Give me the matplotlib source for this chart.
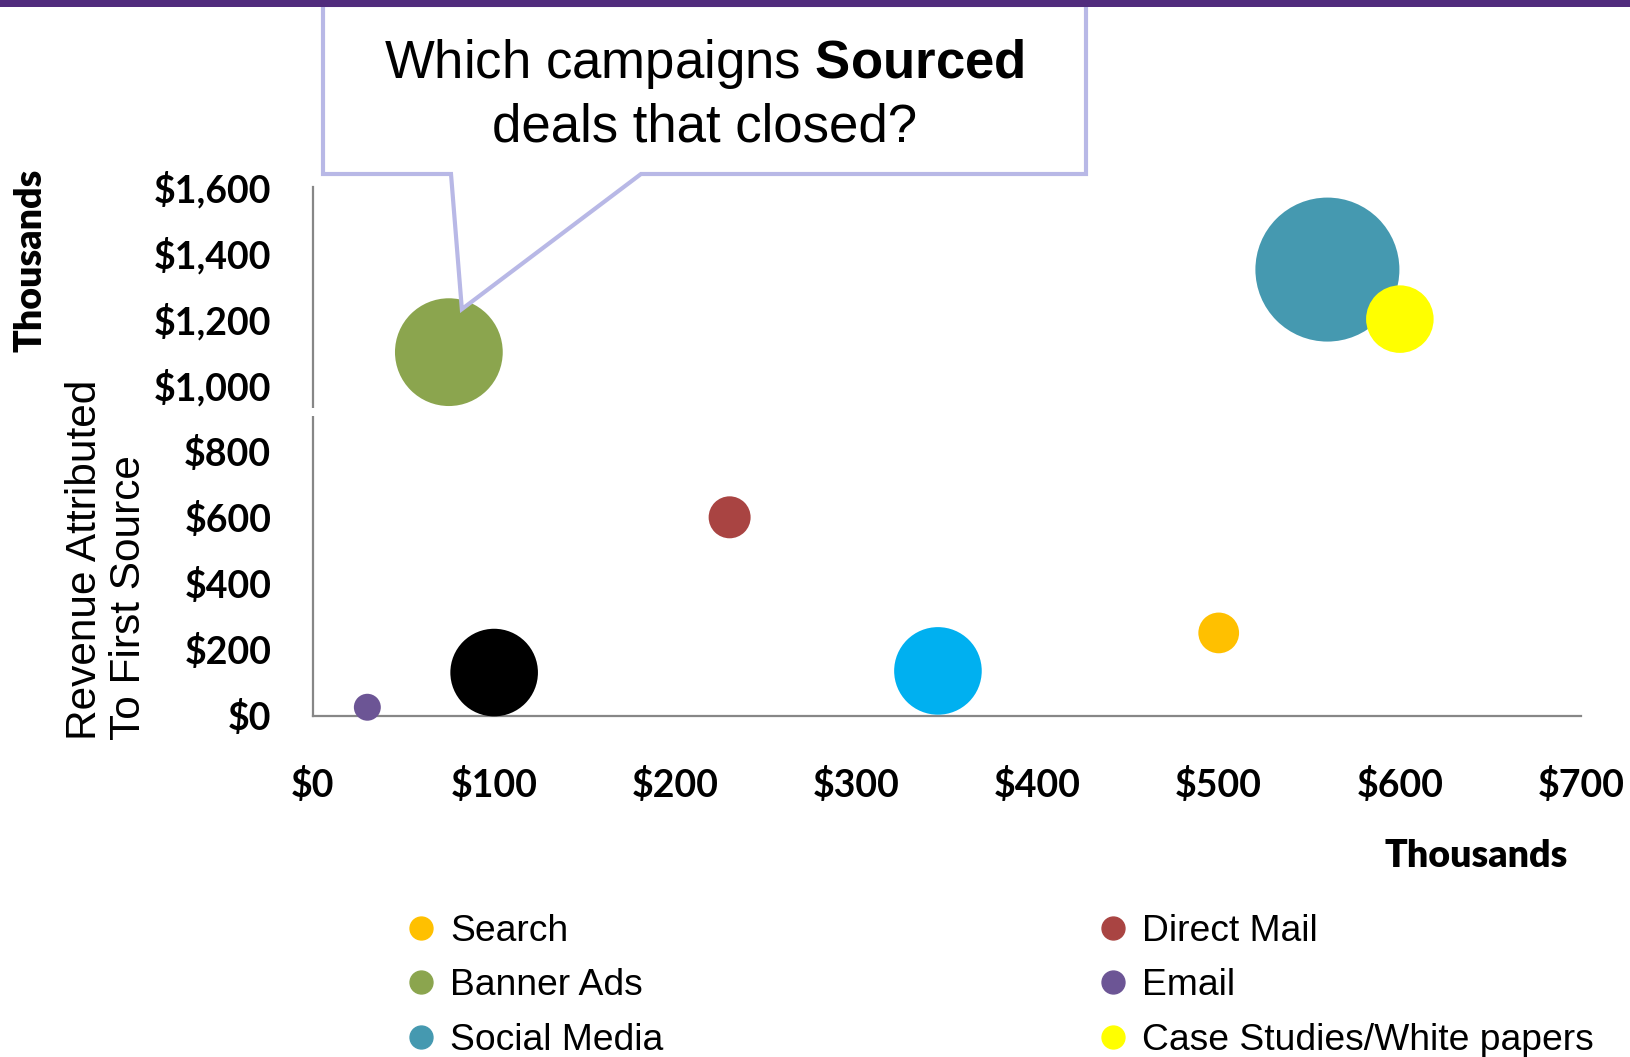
import matplotlib
matplotlib.use('Agg')
import matplotlib.pyplot as plt
from matplotlib.patches import Polygon, Rectangle
from matplotlib.lines import Line2D
from matplotlib.ticker import MultipleLocator, StrMethodFormatter

plt.rcParams['mathtext.fontset'] = 'custom'
plt.rcParams['mathtext.rm'] = 'Liberation Sans'
plt.rcParams['mathtext.bf'] = 'Liberation Sans:bold'

# campaign results, money in thousands of dollars
campaigns = ['Search', 'Banner Ads', 'Social Media', 'Direct Mail', 'Email',
             'Case Studies/White papers', None, None]
spend = [500, 75, 560, 230, 30, 600, 100, 345]
revenue = [250, 1100, 1350, 600, 25, 1200, 130, 135]
deals = [8, 56, 100, 8.5, 3.5, 22, 37, 37]
colors = ['#FFC000', '#8BA54E', '#4599B0', '#A94442', '#6C5595',
          '#FFFF00', '#000000', '#00B0F0']

W, H = 1630, 1057
BUBBLE_SCALE = 107.5

fig = plt.figure(figsize=(W / 100, H / 100), dpi=100)
ax = fig.add_axes([313 / W, 1 - 715.5 / H, (1581 - 313) / W, (715.5 - 187) / H])

for x, y, n, c in zip(spend, revenue, deals, colors):
    ax.scatter(x, y, s=n * BUBBLE_SCALE, color=c, edgecolors='none',
               zorder=3, clip_on=False)

ax.set_xlim(0, 700)
ax.set_ylim(0, 1600)
ax.xaxis.set_major_locator(MultipleLocator(100))
ax.yaxis.set_major_locator(MultipleLocator(200))
ax.xaxis.set_major_formatter(StrMethodFormatter('${x:,.0f}'))
ax.yaxis.set_major_formatter(StrMethodFormatter('${x:,.0f}'))
for side in ['top', 'right']:
    ax.spines[side].set_visible(False)
for side in ['left', 'bottom']:
    ax.spines[side].set_color('#878787')
    ax.spines[side].set_linewidth(1.6)
ax.tick_params(axis='x', length=0, pad=37)
ax.tick_params(axis='y', length=0, pad=30)
for lbl in ax.get_xticklabels() + ax.get_yticklabels():
    lbl.set_fontfamily('Lato')
    lbl.set_fontweight('bold')
    lbl.set_fontsize(27)

# small break in the value axis line
ax.add_artist(Rectangle((-0.01, 907), 0.02, 24, transform=ax.get_yaxis_transform(),
                        facecolor='white', edgecolor='none', zorder=4, clip_on=False))

# axis titles
fig.text(1476 / W, 1 - 856 / H, 'Thousands', family='Lato', weight='heavy',
         fontsize=27, ha='center', va='center')
fig.text(31 / W, 1 - 260 / H, 'Thousands', family='Lato', weight='heavy',
         fontsize=27, ha='center', va='center', rotation=90)
fig.text(107 / W, 1 - 740 / H, 'Revenue Attributed\nTo First Source',
         family='Liberation Sans', fontsize=30.5, rotation=90,
         ha='center', va='bottom', multialignment='left', linespacing=1.15)

# callout box pointing at the banner ads bubble
fx, fy = ax.transData.transform((spend[1], revenue[1]))
tip = (fx + 13, fy + 43)
box = [(323, 5), (1086, 5), (1086, 174), (641, 174)]
box = [(px, H - py) for px, py in box]
tail = [(451, H - 174), (323, H - 174)]
callout = Polygon(box + [tip] + tail, closed=True, transform=None,
                  facecolor='white', edgecolor='#B8B8E6', linewidth=3,
                  joinstyle='miter', zorder=2)
fig.add_artist(callout)
fig.text(704.5 / W, 1 - 78 / H, r'Which campaigns $\mathbf{Sourced}$',
         family='Liberation Sans', fontsize=38, ha='center', va='baseline')
fig.text(704.5 / W, 1 - 142 / H, 'deals that closed?',
         family='Liberation Sans', fontsize=38, ha='center', va='baseline')

# purple band along the top
fig.add_artist(Rectangle((0, 1 - 7 / H), 1, 7 / H, transform=fig.transFigure,
                         facecolor='#512C7D', edgecolor='none', zorder=5))

# legend for the named campaigns
handles = [Line2D([], [], marker='o', linestyle='', markersize=16.5,
                  markerfacecolor=c, markeredgecolor=c)
           for c, name in zip(colors, campaigns) if name]
labels = [name for name in campaigns if name]
fig.legend(handles, labels, ncol=2, loc='upper left',
           bbox_to_anchor=(408 / W, 1 - 914 / H), frameon=False,
           prop={'family': 'Liberation Sans', 'size': 26.8},
           handlelength=0.7, handletextpad=0.43, columnspacing=11.72,
           labelspacing=0.52, borderaxespad=0, borderpad=0)

fig.savefig('out.png', dpi=100)
